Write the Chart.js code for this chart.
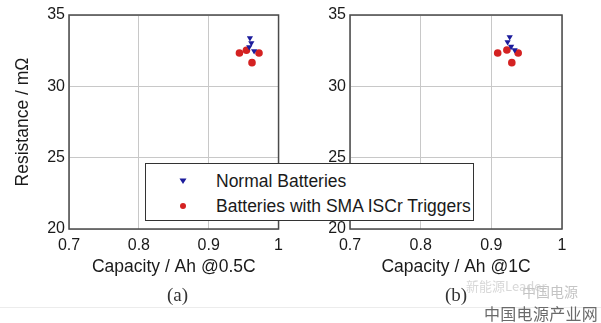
<!DOCTYPE html>
<html><head><meta charset="utf-8">
<script src="https://cdn.jsdelivr.net/npm/chart.js@4/dist/chart.umd.min.js"></script>
<style>
html,body{margin:0;padding:0;background:#fff;}
body{width:601px;height:323px;position:relative;overflow:hidden;font-family:"Liberation Sans",Arial,sans-serif;}
.cv{position:absolute;top:0;}
#legend{position:absolute;left:145px;top:163px;width:327px;height:56px;border:1px solid #333;background:#fff;z-index:5;}
.lrow{position:absolute;left:0;height:24px;line-height:24px;font-size:17.5px;color:#1a1a1a;}
.lt{position:absolute;left:70px;white-space:nowrap;}
.mk{position:absolute;}
.sub{position:absolute;font-family:"Liberation Serif","DejaVu Serif",serif;font-size:19px;color:#333;}
</style></head><body>
<div class="cv" style="left:0;width:290px;height:290px;"><canvas id="c1" width="290" height="290"></canvas></div>
<div class="cv" style="left:300px;width:290px;height:290px;"><canvas id="c2" width="290" height="290"></canvas></div>
<div id="legend">
  <div class="lrow" style="top:5px;width:100%"><svg class="mk" style="left:33px;top:9px" width="8" height="7"><polygon points="0.5,0.5 7.5,0.5 4,6" fill="#1c1c9c"/></svg><span class="lt" id="l1"></span></div>
  <div class="lrow" style="top:30px;width:100%"><svg class="mk" style="left:33px;top:8px" width="8" height="8"><circle cx="4" cy="4" r="3" fill="#d42222"/></svg><span class="lt" id="l2"></span></div>
</div>
<div class="sub" style="left:167px;top:284px;">(a)</div>
<div class="sub" style="left:445px;top:284px;">(b)</div>
<div style="position:absolute;left:0;top:307px;width:601px;height:1px;background:#ececec"></div>
<div style="position:absolute;left:466px;top:276px;font-size:13px;color:#d8d8d8;font-family:'Noto Sans CJK SC',sans-serif;">新能源Leader</div>
<div style="position:absolute;left:522px;top:281px;font-size:14px;color:#c4c4c4;font-family:'Noto Sans CJK SC',sans-serif;">中国电源</div>
<div style="position:absolute;left:484px;top:301px;font-size:16px;color:#6a6a6a;font-family:'Noto Sans CJK SC',sans-serif;letter-spacing:0.3px">中国电源产业网</div>
<script>
const seriesNames = ['Normal Batteries', 'Batteries with SMA ISCr Triggers'];
const xTickLabels = ['0.7', '0.8', '0.9', '1'];
const yTickLabels = ['20', '25', '30', '35'];
const xTitles = ['Capacity / Ah @0.5C', 'Capacity / Ah @1C'];
const yTitle = 'Resistance / m\u03A9';
// (a) 0.5C
const normalCapA = [0.959, 0.961, 0.958, 0.965];
const normalResA = [33.39, 33.04, 32.76, 32.48];
const smaCapA = [0.944, 0.954, 0.972, 0.962];
const smaResA = [32.34, 32.53, 32.34, 31.66];
// (b) 1C
const normalCapB = [0.926, 0.923, 0.928, 0.933];
const normalResB = [33.46, 33.11, 32.78, 32.55];
const smaCapB = [0.909, 0.922, 0.938, 0.929];
const smaResB = [32.34, 32.55, 32.34, 31.66];

document.getElementById('l1').textContent = seriesNames[0];
document.getElementById('l2').textContent = seriesNames[1];

const toPts = (xs, ys) => xs.map((x, i) => ({x, y: ys[i]}));
const boxPlugin = {
  id: 'box',
  afterDraw(chart) {
    const {ctx, chartArea: a} = chart;
    ctx.save();
    ctx.strokeStyle = '#4a4a4a';
    ctx.lineWidth = 1.5;
    ctx.strokeRect(a.left, a.top, a.right - a.left, a.bottom - a.top);
    ctx.restore();
  }
};
function makeChart(id, nc, nr, sc, sr, xTitle, yW, showY, rightPad) {
  new Chart(document.getElementById(id), {
    type: 'scatter',
    data: {datasets: [
      {label: seriesNames[1], data: toPts(sc, sr), pointStyle: 'circle', pointRadius: 3.8, backgroundColor: '#d42222', borderColor: '#d42222', borderWidth: 0, order: 2},
      {label: seriesNames[0], data: toPts(nc, nr), pointStyle: 'triangle', rotation: 180, pointRadius: 3.6, backgroundColor: '#1c1c9c', borderColor: '#1c1c9c', borderWidth: 0, order: 1}
    ]},
    options: {
      responsive: false, animation: false, devicePixelRatio: 1,
      layout: {padding: {top: 15, right: rightPad, left: 0, bottom: 0}},
      plugins: {legend: {display: false}, tooltip: {enabled: false}},
      scales: {
        x: {
          type: 'linear', min: 0.7, max: 1.0,
          afterBuildTicks: s => { s.ticks = xTickLabels.map(v => ({value: parseFloat(v)})); },
          afterFit: s => { s.height = 61; },
          grid: {color: '#c8c8c8', drawTicks: false, lineWidth: 1},
          border: {display: false},
          ticks: {padding: 7, color: '#1a1a1a', font: {family: 'Liberation Sans', size: 16},
                  callback: (v, i) => xTickLabels[i]},
          title: {display: true, text: xTitle, color: '#1a1a1a', padding: {top: 0, bottom: 12},
                  font: {family: 'Liberation Sans', size: 17.5}}
        },
        y: {
          type: 'linear', min: 20, max: 35,
          afterBuildTicks: s => { s.ticks = yTickLabels.map(v => ({value: parseFloat(v)})); },
          afterFit: s => { s.width = yW; },
          grid: {color: '#c8c8c8', drawTicks: false, lineWidth: 1},
          border: {display: false},
          ticks: {padding: 4, color: '#1a1a1a', font: {family: 'Liberation Sans', size: 16},
                  callback: (v, i) => yTickLabels[i]},
          title: {display: showY, text: yTitle, color: '#1a1a1a', padding: {top: 13, bottom: 0},
                  font: {family: 'Liberation Sans', size: 17.5}}
        }
      }
    },
    plugins: [boxPlugin]
  });
}
makeChart('c1', normalCapA, normalResA, smaCapA, smaResA, xTitles[0], 69, true, 8);
makeChart('c2', normalCapB, normalResB, smaCapB, smaResB, xTitles[1], 50, false, 28);
</script>
</body></html>
